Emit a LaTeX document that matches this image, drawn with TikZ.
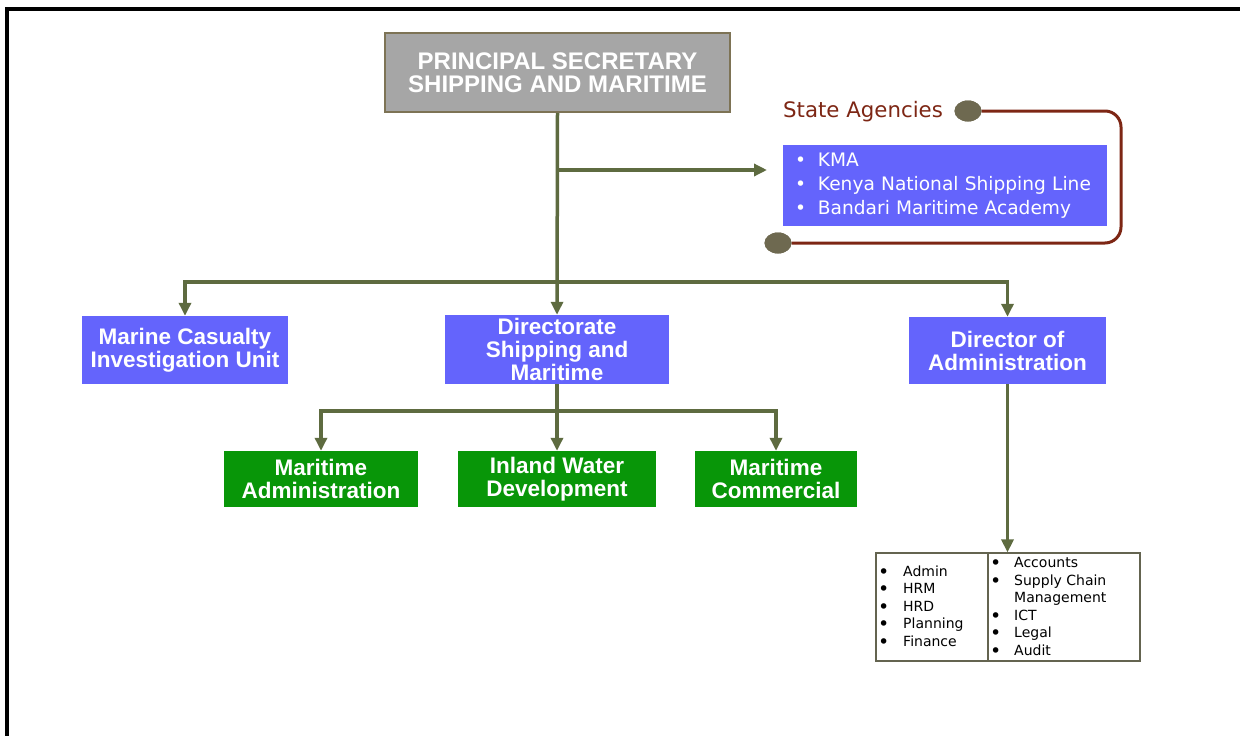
\documentclass[tikz,border=0pt]{standalone}
\usepackage{fontspec}
\setmainfont{Liberation Sans}
\newfontfamily\dejavu{DejaVu Sans}
\usetikzlibrary{arrows.meta,shapes.geometric}
\definecolor{olivec}{RGB}{94,107,64}
\definecolor{bluef}{RGB}{100,100,252}
\definecolor{greenf}{RGB}{8,150,8}
\definecolor{grayf}{RGB}{166,166,166}
\definecolor{grayb}{RGB}{125,115,85}
\definecolor{brownl}{RGB}{125,38,20}
\definecolor{dotc}{RGB}{110,105,80}
\definecolor{tblb}{RGB}{100,100,80}
\newcommand{\tb}{\raisebox{-2pt}{\fontsize{19}{0}\selectfont\textbullet}}
\begin{document}
\begin{tikzpicture}[x=1pt,y=-1pt,
  conn/.style={draw=olivec,line width=3.5pt},
  arr/.style={conn,-{Triangle[length=13pt,width=12pt]}},
  headbox/.style={draw=grayb,line width=2pt,fill=grayf,text=white,inner sep=0pt,align=center,
    font=\fontsize{24}{22.5}\selectfont\bfseries},
  bluebox/.style={fill=bluef,text=white,inner sep=0pt,align=center,
    font=\fontsize{22.5}{23}\selectfont\bfseries},
  greenbox/.style={fill=greenf,text=white,inner sep=0pt,align=center,
    font=\fontsize{22.5}{23}\selectfont\bfseries},
  dot/.style={ellipse,fill=dotc,minimum width=27pt,minimum height=21pt,inner sep=0pt},
  listtext/.style={inner sep=0pt,align=left,font=\dejavu\fontsize{14}{17.5}\selectfont}
]
\useasboundingbox (0,0) rectangle (1240,736);
% frame
\draw[line width=4pt] (7,745) -- (7,9) -- (1250,9);

% header
\node[headbox,minimum width=345pt,minimum height=79pt] (ps) at (557.5,72.5)
  {PRINCIPAL SECRETARY\\SHIPPING AND MARITIME};

% state agencies
\node[anchor=west,text=brownl,inner sep=0pt,font=\dejavu\fontsize{21.3}{24}\selectfont] (satitle) at (783,112) {State Agencies};
\node[fill=bluef,text=white,minimum width=324pt,minimum height=81pt,text width=300pt,inner xsep=12pt,inner ysep=0pt,align=left,
  font=\dejavu\fontsize{18.6}{24}\selectfont] (sa) at (945,185.5)
  {\begin{tabular}{@{}l@{\hspace{12pt}}l@{}}\textbullet & KMA\\ \textbullet & Kenya National Shipping Line\\ \textbullet & Bandari Maritime Academy\end{tabular}};
\node[dot] (c1) at (968,111) {};
\node[dot] (c2) at (778,243) {};
\draw[draw=brownl,line width=3pt,rounded corners=16pt] (c1.east) -- (1121,111) -- (1121,243) -- (c2.east);
\node[dot] at (c1) {};
\node[dot] at (c2) {};

% level 2
\node[bluebox,minimum width=206pt,minimum height=68pt] (mciu) at (185,350) {Marine Casualty\\Investigation Unit};
\node[bluebox,minimum width=224pt,minimum height=69pt] (dsm) at (557,349.5) {Directorate\\Shipping and\\Maritime};
\node[bluebox,minimum width=197pt,minimum height=67pt] (doa) at (1007.5,350.5) {Director of\\Administration};

% level 3
\node[greenbox,minimum width=194pt,minimum height=56pt] (ma) at (321,479) {Maritime\\Administration};
\node[greenbox,minimum width=198pt,minimum height=56pt] (iw) at (557,479) {Inland Water\\Development};
\node[greenbox,minimum width=162pt,minimum height=56pt] (mc) at (776,479) {Maritime\\Commercial};

% table
\node[draw=tblb,line width=1.2pt,minimum width=264pt,minimum height=108pt,inner sep=0pt] (tbl) at (1008,607) {};
\draw[draw=tblb,line width=1.2pt] (988,553) -- (988,661);
\node[listtext,anchor=west] (tl) at (878,607)
  {\makebox[25pt][l]{\tb}Admin\\\makebox[25pt][l]{\tb}HRM\\\makebox[25pt][l]{\tb}HRD\\\makebox[25pt][l]{\tb}Planning\\\makebox[25pt][l]{\tb}Finance};
\node[listtext,anchor=west] (tr) at (990,607.5)
  {\makebox[24pt][l]{\tb}Accounts\\\makebox[24pt][l]{\tb}Supply Chain\\\makebox[24pt][l]{}Management\\\makebox[24pt][l]{\tb}ICT\\\makebox[24pt][l]{\tb}Legal\\\makebox[24pt][l]{\tb}Audit};

% connectors
\coordinate (j1) at (557,170);
\coordinate (saarr) at (767,170);
\coordinate (b1) at (557,282);
\coordinate (b2) at (557,411);
\draw[arr] (ps.south) -- (dsm.north);
\draw[arr] (j1) -- (saarr);
\draw[arr] (b1) -| (mciu.north);
\draw[arr] (b1) -| (doa.north);
\draw[arr] (dsm.south) -- (iw.north);
\draw[arr] (b2) -| (ma.north);
\draw[arr] (b2) -| (mc.north);
\draw[arr] (doa.south) -- (doa.south |- tbl.north);
\end{tikzpicture}
\end{document}
